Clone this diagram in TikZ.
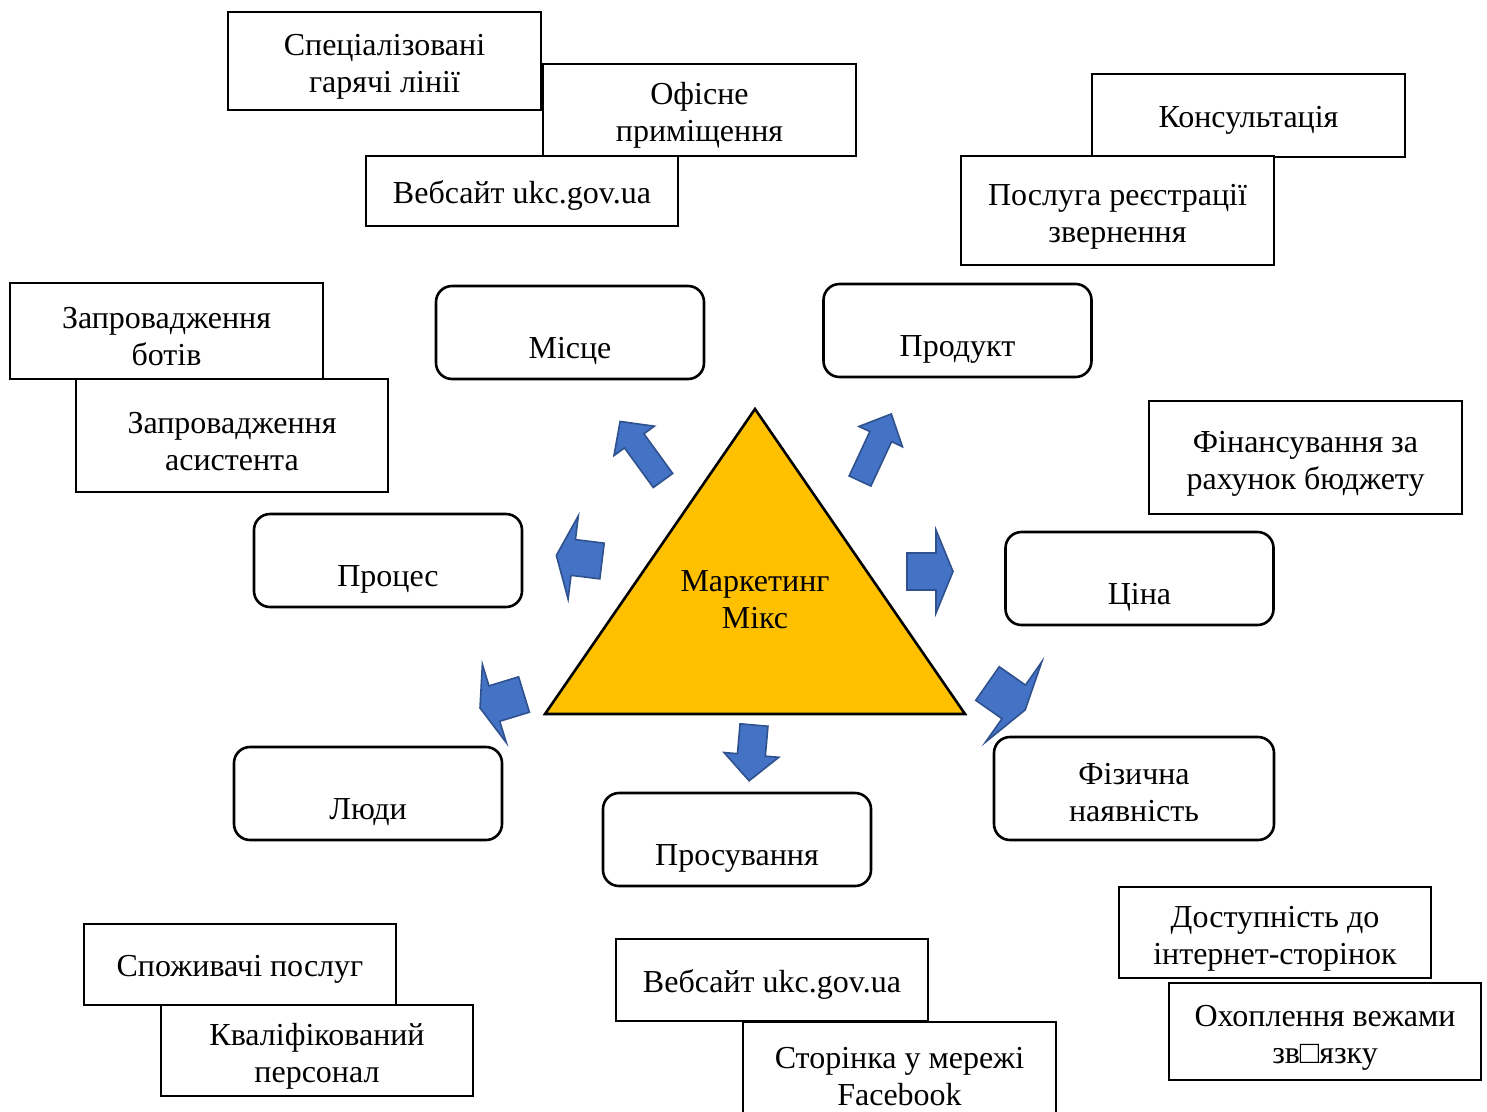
\documentclass[tikz,border=0pt]{standalone}
\usepackage{fontspec}
\setmainfont{Liberation Serif}
\definecolor{trikut}{HTML}{FFC000}
\definecolor{strfill}{HTML}{4472C4}
\definecolor{strline}{HTML}{2F528F}
\begin{document}
\begin{tikzpicture}[x=1pt, y=-1pt, line join=miter,
	kvad/.style={draw, line width=2pt, fill=white, minimum width=312.5pt, inner sep=0pt, align=center, font=\fontsize{32}{37}\selectfont},
	odyn/.style={kvad, execute at begin node={\rule{0pt}{31pt}}},
	dva/.style={kvad, execute at begin node={\rule{0pt}{70pt}}},
	okr/.style={draw, line width=2.6pt, rounded corners=16pt, fill=white, minimum width=268pt, minimum height=93pt, inner sep=0pt, align=center, font=\fontsize{32}{37}\selectfont},
	nyz/.style={text height=52pt, text depth=0pt},
	strilka/.style={draw=strline, line width=1.6pt, fill=strfill}]
	%% Рамка
	\useasboundingbox (0,0) rectangle (1487,1111);
	%% Блочна стрілка: (хвіст) кут довжина ширина голова ширина_голови
	\def\strilka(#1,#2)#3#4#5#6#7{%
		\draw[strilka, shift={(#1,#2)}, rotate=#3]
		(0,-#5/2) -- (#4-#6,-#5/2) -- (#4-#6,-#7/2) -- (#4,0)
		-- (#4-#6,#7/2) -- (#4-#6,#5/2) -- (0,#5/2) -- cycle;}
	%% Трикутник
	\draw [fill=trikut, line width=2.6pt] (755,409) -- (965,714) -- (545,714) -- cycle;
	\node [font=\fontsize{32}{37}\selectfont, align=center] (mix) at (755,600) {Маркетинг\\Мікс};
	%% Стрілки
	\strilka(663,480.5){126}{73}{24}{24}{50}
	\strilka(860,481){65}{74}{24}{25}{48}
	\strilka(602,561){173}{46}{36}{17}{84}
	\strilka(907,571.5){0}{46}{37}{17}{83}
	\strilka(987.5,683.5){-35}{46}{41}{14}{98}
	\strilka(754,725){-95}{56}{28}{26}{55}
	\strilka(524,694.5){197}{46}{37}{15}{82}
	%% Складові маркетинг-міксу
	\node [okr, nyz] (misce) at (570,332.5) {Місце};
	\node [okr, nyz] (prod) at (957.5,330.5) {Продукт};
	\node [okr, nyz] (proc) at (388,560.5) {Процес};
	\node [okr, nyz] (cina) at (1139.5,578.5) {Ціна};
	\node [okr, nyz] (ludy) at (368,793.5) {Люди};
	\node [okr, nyz] (prosuv) at (737,839.5) {Просування};
	\node [okr, minimum width=280pt, minimum height=103pt, execute at begin node={\rule{0pt}{66pt}}] (fiz) at (1134,788.5) {Фізична\\наявність};
	%% Місце
	\node [dva, minimum height=98pt] (spec) at (384.5,61) {Спеціалізовані\\гарячі лінії};
	\node [dva, minimum height=92pt] (ofis) at (699.5,110) {Офісне\\приміщення};
	\node [odyn, minimum height=70pt] (web1) at (522,191) {Вебсайт ukc.gov.ua};
	%% Продукт
	\node [odyn, minimum height=83pt] (kons) at (1248.5,115.5) {Консультація};
	\node [dva, minimum height=109pt] (posl) at (1117.5,210.5) {Послуга реєстрації\\звернення};
	%% Процес
	\node [dva, minimum height=96pt] (boty) at (166.5,331) {Запровадження\\ботів};
	\node [dva, minimum height=113pt] (asys) at (232,435.5) {Запровадження\\асистента};
	%% Ціна
	\node [dva, minimum height=113pt] (fin) at (1305.5,457.5) {Фінансування за\\рахунок бюджету};
	%% Люди
	\node [odyn, minimum height=81pt] (spoz) at (240,964.5) {Споживачі послуг};
	\node [dva, minimum height=91pt] (kval) at (317,1050.5) {Кваліфікований\\персонал};
	%% Просування
	\node [odyn, minimum height=82pt] (web2) at (772,980) {Вебсайт ukc.gov.ua};
	\node [dva, minimum height=98pt] (fb) at (899.5,1071) {Сторінка у мережі\\Facebook};
	%% Фізична наявність
	\node [dva, minimum height=91pt] (dost) at (1275,932.5) {Доступність до\\інтернет-сторінок};
	\node [dva, minimum height=97pt] (ohop) at (1325,1031.5) {Охоплення вежами\\зв□язку};
\end{tikzpicture}
\end{document}
